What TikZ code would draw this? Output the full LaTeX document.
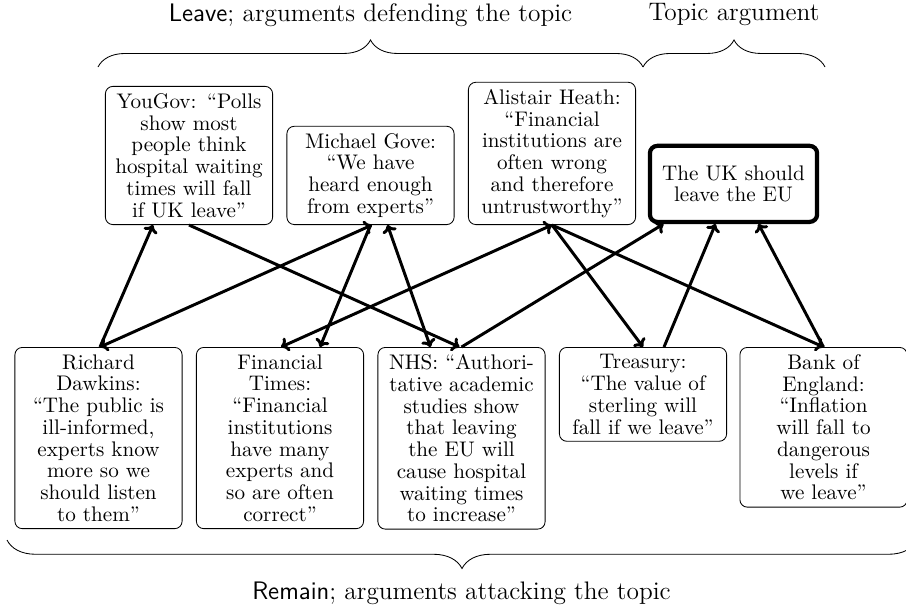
\documentclass[tikz,border=0pt]{standalone}
\usetikzlibrary{decorations.pathreplacing,calc,arrows.meta}
\begin{document}
\begin{tikzpicture}[x=0.4735pt,y=-0.4735pt,
  argbox/.style={draw, rounded corners=3.5pt, align=center, text width=72.5pt,
    inner sep=3.33pt, font=\fontsize{10}{10.3}\selectfont},
  topicbox/.style={argbox, line width=2pt, minimum height=36pt},
  conn/.style={line width=1.4pt, >={To[length=3.6pt, width=7pt]}},
  lbl/.style={font=\large},
  bracestyle/.style={decorate, decoration={brace, amplitude=#1}}]
\useasboundingbox (0,0) rectangle (906,608);

% top row
\node[argbox, anchor=south] (yg) at (189,225) {YouGov: “Polls\\show most\\people think\\hospital waiting\\times will fall\\if UK leave”};
\node[argbox, anchor=south] (gv) at (370.5,225) {Michael Gove:\\“We have\\heard enough\\from experts”};
\node[argbox, anchor=south] (ah) at (552,225) {Alistair Heath:\\“Financial\\institutions are\\often wrong\\and therefore\\untrustworthy”};
\node[topicbox, anchor=south] (tp) at (733.5,224) {The UK should\\leave the EU};

% bottom row
\node[argbox, anchor=north] (rd) at (98.5,347) {Richard\\Dawkins:\\“The public is\\ill-informed,\\experts know\\more so we\\should listen\\to them”};
\node[argbox, anchor=north] (ft) at (280,347) {Financial\\Times:\\“Financial\\institutions\\have many\\experts and\\so are often\\correct”};
\node[argbox, anchor=north] (nhs) at (461.5,347) {NHS: “Authori-\\tative academic\\studies show\\that leaving\\the EU will\\cause hospital\\waiting times\\to increase”};
\node[argbox, anchor=north] (tr) at (643,347) {Treasury:\\“The value of\\sterling will\\fall if we leave”};
\node[argbox, anchor=north] (be) at (823.5,347) {Bank of\\England:\\“Inflation\\will fall to\\dangerous\\levels if\\we leave”};

% labels
\node[lbl] (leaveLbl) at (370.5,15) {\textsf{Leave}; arguments defending the topic};
\node[lbl] (topicLbl) at (734,15) {Topic argument};
\node[lbl] (remainLbl) at (461.5,593) {\textsf{Remain}; arguments attacking the topic};

% braces
\draw[bracestyle=12.8pt] (98,67) -- (643,67);
\draw[bracestyle=12.8pt] (643,67) -- (825,67);
\draw[bracestyle=13.5pt] (917,540) -- (7,540);

% connectors
\draw[conn,->] ($(rd.north)+(1.5,0)$) -- ($(yg.south)+(-36,0)$);
\draw[conn,<->] ($(rd.north)+(1.5,0)$) -- ($(gv.south)+(1.5,0)$);
\draw[conn,->] (gv.south) -- ($(ft.north)+(40,0)$);
\draw[conn,<->] (ah.south) -- ($(ft.north)+(1,0)$);
\draw[conn,<->] ($(gv.south)+(17,0)$) -- ($(nhs.north)+(-31,0)$);
\draw[conn,->] (yg.south) -- ($(nhs.north)+(-2,0)$);
\draw[conn,->] (nhs.north) -- ($(tp.south)+(-70,0)$);
\draw[conn,->] (ah.south) -- (tr.north);
\draw[conn,->] (ah.south) -- (be.north);
\draw[conn,->] ($(tr.north)+(21,0)$) -- ($(tp.south)+(-18,0)$);
\draw[conn,->] (be.north) -- ($(tp.south)+(25,0)$);
\end{tikzpicture}
\end{document}
